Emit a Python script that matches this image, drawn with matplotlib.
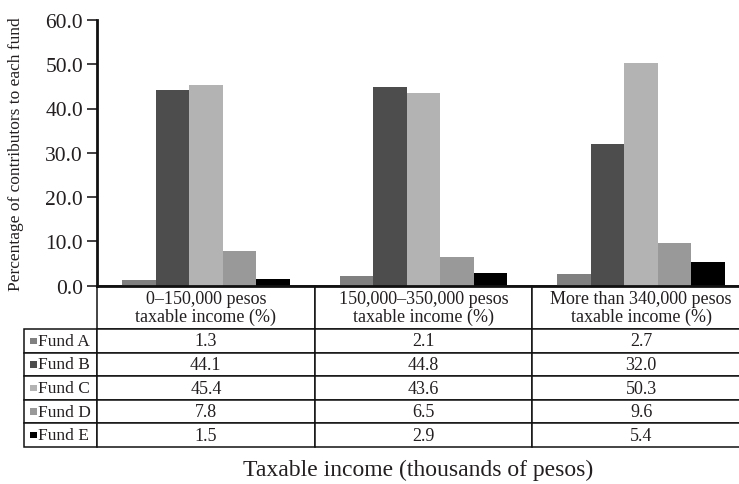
import matplotlib
matplotlib.use("Agg")
import matplotlib.pyplot as plt
from matplotlib.patches import Rectangle
import numpy as np

plt.rcParams['font.family'] = ['Liberation Serif', 'DejaVu Serif']

categories = ["0–150,000 pesos\ntaxable income (%)",
              "150,000–350,000 pesos\ntaxable income (%)",
              "More than 340,000 pesos\ntaxable income (%)"]
funds = ["Fund A", "Fund B", "Fund C", "Fund D", "Fund E"]
fund_a = [1.3, 2.1, 2.7]
fund_b = [44.1, 44.8, 32.0]
fund_c = [45.4, 43.6, 50.3]
fund_d = [7.8, 6.5, 9.6]
fund_e = [1.5, 2.9, 5.4]
series = [fund_a, fund_b, fund_c, fund_d, fund_e]
colors = ["#808080", "#4d4d4d", "#b3b3b3", "#999999", "#000000"]
yticks = [0, 10, 20, 30, 40, 50, 60]

W, H = 739, 485
fig = plt.figure(figsize=(W / 100, H / 100), dpi=100)

# axes geometry in pixels
ax_l, ax_r, ax_t, ax_b = 97.0, 750.0, 21, 286.5
axw, axh = ax_r - ax_l, ax_b - ax_t
ax = fig.add_axes([ax_l / W, 1 - ax_b / H, axw / W, axh / H])

n = len(categories)
x = np.arange(n)
bw = 0.154
for i, (vals, c) in enumerate(zip(series, colors)):
    ax.bar(x + (i - 2) * bw, vals, width=bw, color=c, linewidth=0)

ax.set_xlim(-0.5, n - 0.5)
ax.set_ylim(0, 60)
ax.set_yticks(yticks)
ax.set_yticklabels([f"{v:.1f}" for v in yticks], fontsize=15.5, color="#231f20")
ax.set_xticks([])
ax.tick_params(axis='y', length=7, width=1.2, pad=3, color='#231f20')
for s in ['top', 'right']:
    ax.spines[s].set_visible(False)
for s in ['left', 'bottom']:
    ax.spines[s].set_linewidth(2)
    ax.spines[s].set_color('#111')

# table geometry (pixels)
tbl_left = 24
hdr_h = 43.5
row_h = 23.6
tbl_top = ax_b
tbl_bottom = tbl_top + hdr_h + row_h * len(funds)
label_w = ax_l - tbl_left
col_w = axw / n
grid_h = tbl_bottom - tbl_top

cell_text = [[f"{v:.1f}" for v in vals] for vals in series]
# bbox covers the data grid (header + values); row labels sit to its left
tbl = ax.table(cellText=cell_text, rowLabels=funds, colLabels=categories,
               cellLoc='center', rowLoc='left',
               bbox=[0, -grid_h / axh, 1, grid_h / axh])
tbl.auto_set_font_size(False)
tbl.set_fontsize(13)
for (r, c), cell in tbl.get_celld().items():
    cell.set_linewidth(1.1)
    cell.set_edgecolor('#111')
    cell.get_text().set_color('#231f20')
    if c == -1:
        cell.set_width(label_w / axw)
        cell.PAD = 0.19
        cell.get_text().set_fontsize(12.5)
    else:
        cell.set_width(col_w / axw)
    cell.set_height((hdr_h if r == 0 else row_h) / axh)
    if r == 0:
        cell.get_text().set_linespacing(1.05)

# legend swatches in row labels
for i, c in enumerate(colors):
    cy = tbl_top + hdr_h + row_h * (i + 0.5)
    s = 6.5
    fig.add_artist(Rectangle((30 / W, 1 - (cy + s / 2) / H), s / W, s / H,
                             transform=fig.transFigure, color=c, lw=0))

fig.text(16 / W, 1 - 154 / H, "Percentage of contributors to each fund",
         rotation=90, ha='center', va='center', fontsize=12.5, color='#231f20')
fig.text(418 / W, 1 - 470 / H, "Taxable income (thousands of pesos)",
         ha='center', va='center', fontsize=17, color='#231f20')

fig.savefig("out.png", dpi=100)
